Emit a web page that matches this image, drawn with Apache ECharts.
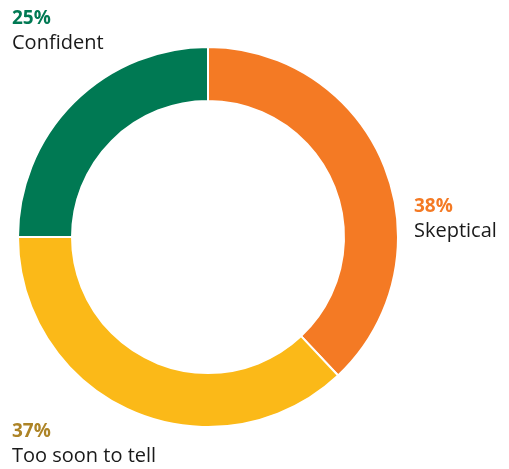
<!DOCTYPE html>
<html>
<head>
<meta charset="utf-8">
<script src="https://cdn.jsdelivr.net/npm/echarts@6/dist/echarts.min.js"></script>
<style>
  html, body { margin: 0; padding: 0; background: #fff; }
  #chart { width: 509px; height: 469px; }
</style>
</head>
<body>
<div id="chart"></div>
<script>
// data
var categories = ['Skeptical', 'Too soon to tell', 'Confident'];
var values = [38, 37, 25];
var sliceColors = ['#f47a24', '#fbb918', '#007953'];
var pctColors = ['#f47a24', '#ad8427', '#007953'];

// where each label block sits (top-left corner)
var labelPos = [
  { x: 414, y: 194 },
  { x: 12, y: 419 },
  { x: 12, y: 6 }
];

var chart = echarts.init(document.getElementById('chart'));

var rich = {};
pctColors.forEach(function (c, i) {
  rich['p' + i] = { color: c, fontWeight: 'bold', fontSize: 19, lineHeight: 25, fontFamily: 'Open Sans' };
});
rich.n = { color: '#1a1a1a', fontSize: 20, lineHeight: 25, fontFamily: 'Open Sans' };

chart.setOption({
  animation: false,
  series: [{
    type: 'pie',
    center: [208, 237],
    radius: [136, 190],
    startAngle: 90,
    clockwise: true,
    silent: true,
    avoidLabelOverlap: false,
    itemStyle: { borderColor: '#fff', borderWidth: 2 },
    label: {
      show: true,
      position: 'outside',
      overflow: 'none',
      width: 200,
      formatter: function (p) {
        return '{p' + p.dataIndex + '|' + p.value + '%}\n{n|' + p.name + '}';
      },
      rich: rich,
      align: 'left'
    },
    labelLine: { show: false },
    labelLayout: function (params) {
      var pos = labelPos[params.dataIndex];
      return { x: pos.x, y: pos.y, align: 'left', verticalAlign: 'top' };
    },
    data: categories.map(function (name, i) {
      return { name: name, value: values[i], itemStyle: { color: sliceColors[i] } };
    })
  }]
});
</script>
</body>
</html>
